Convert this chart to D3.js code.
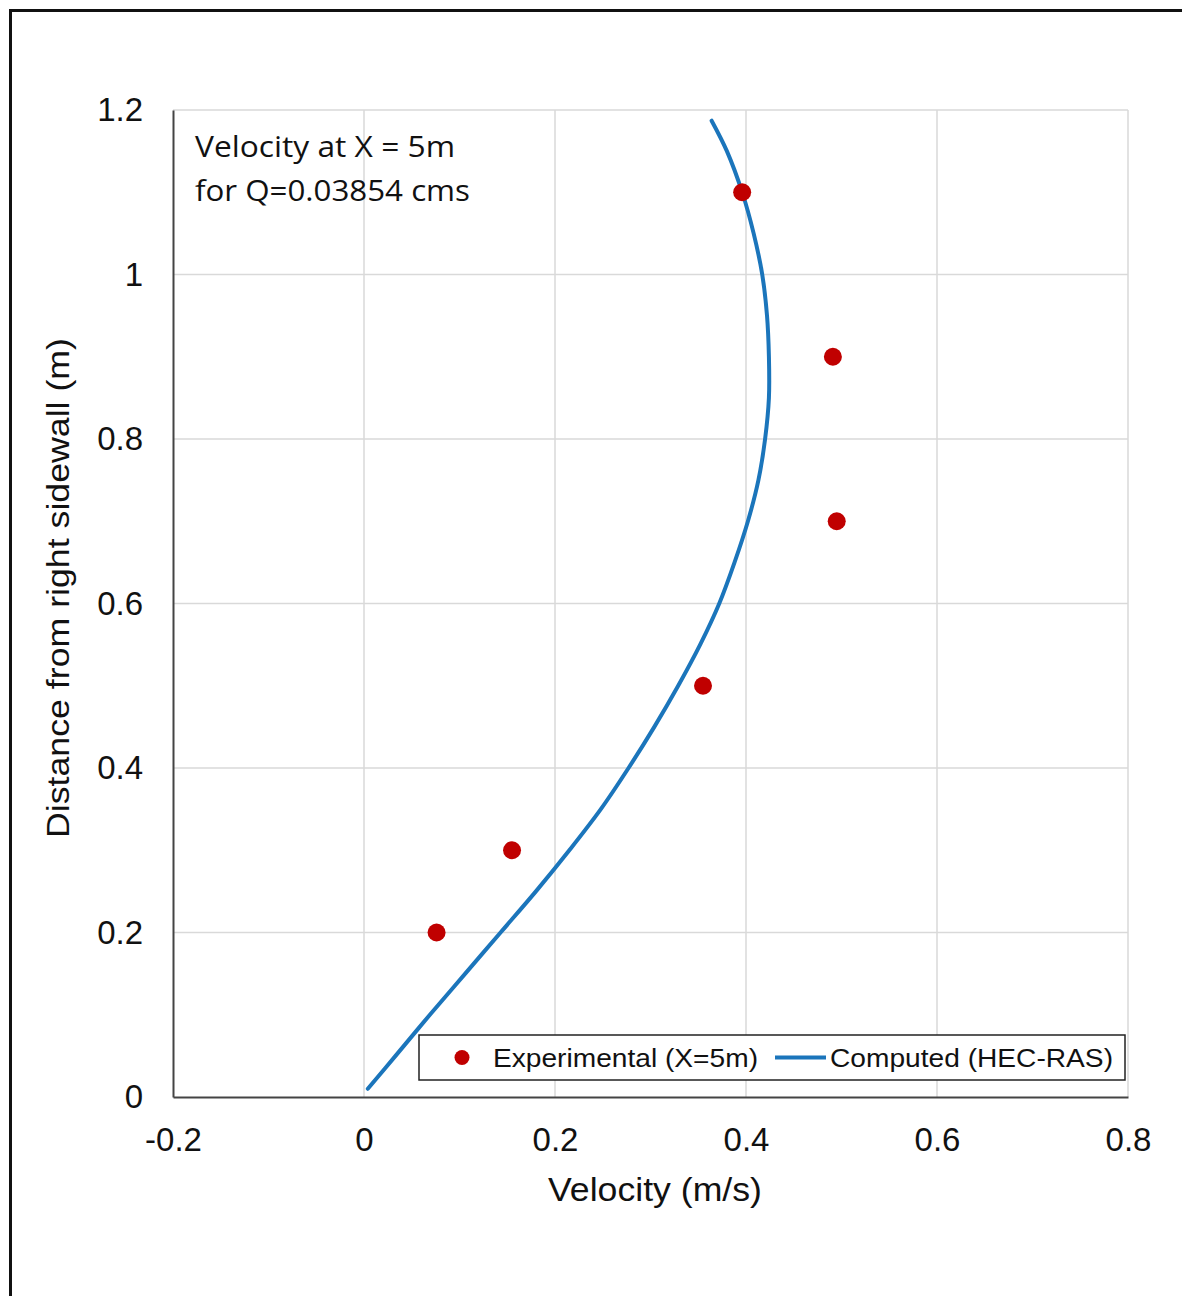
<!DOCTYPE html>
<html>
<head>
<meta charset="utf-8">
<script src="https://cdn.jsdelivr.net/npm/d3@7/dist/d3.min.js"></script>
<style>
  html, body { margin: 0; padding: 0; background: #fff; }
  svg { display: block; }
</style>
</head>
<body>
<script>
// ---- Data ----
const xTicks = [-0.2, 0, 0.2, 0.4, 0.6, 0.8];
const yTicks = [0, 0.2, 0.4, 0.6, 0.8, 1, 1.2];
const xTickLabels = ["-0.2", "0", "0.2", "0.4", "0.6", "0.8"];
const yTickLabels = ["0", "0.2", "0.4", "0.6", "0.8", "1", "1.2"];

// Experimental (X=5m): velocity (m/s), distance (m)
const expVelocity = [0.076, 0.155, 0.355, 0.495, 0.491, 0.396];
const expDistance = [0.2, 0.3, 0.5, 0.7, 0.9, 1.1];

// Computed (HEC-RAS)
const compVelocity = [0.004, 0.033, 0.069, 0.106, 0.143, 0.180, 0.215, 0.248, 0.277, 0.304, 0.329, 0.352, 0.372, 0.388, 0.402, 0.413, 0.420, 0.424, 0.424, 0.422, 0.417, 0.408, 0.396, 0.380, 0.364];
const compDistance = [0.01, 0.05, 0.10, 0.15, 0.20, 0.25, 0.30, 0.35, 0.40, 0.45, 0.50, 0.55, 0.60, 0.65, 0.70, 0.75, 0.80, 0.85, 0.90, 0.95, 1.00, 1.05, 1.10, 1.15, 1.187];

const annotationLines = ["Velocity at X = 5m", "for Q=0.03854 cms"];
const legendLabels = ["Experimental (X=5m)", "Computed (HEC-RAS)"];
const xTitle = "Velocity  (m/s)";
const yTitle = "Distance from right sidewall  (m)";

// ---- Layout ----
const W = 1182, H = 1296;
const mLeft = 173, mRight = 1128, mTop = 110, mBottom = 1097;
const blue = "#1b75bb", red = "#c00000";
const tickFont = "'Liberation Sans', Arial, sans-serif";

const svg = d3.select("body").append("svg").attr("width", W).attr("height", H);

// outer frame
svg.append("rect").attr("x", 10.5).attr("y", 10.5).attr("width", 1250).attr("height", 1350)
  .attr("fill", "none").attr("stroke", "#111").attr("stroke-width", 3);

const x = d3.scaleLinear().domain([-0.2, 0.8]).range([mLeft, mRight]);
const y = d3.scaleLinear().domain([0, 1.2]).range([mBottom, mTop]);

// gridlines
const grid = svg.append("g");
grid.selectAll("line.v").data(xTicks.slice(1)).join("line")
  .attr("x1", d => x(d)).attr("x2", d => x(d)).attr("y1", mTop).attr("y2", mBottom)
  .attr("stroke", "#d9d9d9").attr("stroke-width", 1.5);
grid.selectAll("line.h").data(yTicks.slice(1)).join("line")
  .attr("x1", mLeft).attr("x2", mRight).attr("y1", d => y(d)).attr("y2", d => y(d))
  .attr("stroke", "#d9d9d9").attr("stroke-width", 1.5);

// axes
const xAxis = d3.axisBottom(x).tickValues(xTicks).tickSize(0).tickPadding(31)
  .tickFormat((d, i) => xTickLabels[i]);
const gx = svg.append("g").attr("transform", `translate(0,${mBottom})`).call(xAxis);
gx.select(".domain").attr("stroke", "#444").attr("stroke-width", 2);
gx.selectAll("text").attr("font-family", tickFont).attr("font-size", 33).attr("fill", "#111");

const yAxis = d3.axisLeft(y).tickValues(yTicks).tickSize(0).tickPadding(30)
  .tickFormat((d, i) => yTickLabels[i]);
const gy = svg.append("g").attr("transform", `translate(${mLeft},0)`).call(yAxis);
gy.select(".domain").attr("stroke", "#444").attr("stroke-width", 2);
gy.selectAll("text").attr("font-family", tickFont).attr("font-size", 33).attr("fill", "#111");

// axis titles
svg.append("text").attr("x", 655).attr("y", 1201).attr("text-anchor", "middle")
  .attr("font-family", tickFont).attr("font-size", 33).attr("fill", "#111")
  .attr("textLength", 214).attr("lengthAdjust", "spacingAndGlyphs").text(xTitle);
svg.append("text").attr("transform", "translate(69,588) rotate(-90)").attr("text-anchor", "middle")
  .attr("font-family", tickFont).attr("font-size", 32).attr("fill", "#111")
  .attr("textLength", 500).attr("lengthAdjust", "spacingAndGlyphs").text(yTitle);

// computed line
const line = d3.line().x(d => x(d[0])).y(d => y(d[1])).curve(d3.curveCatmullRom.alpha(0.5));
const compData = compVelocity.map((v, i) => [v, compDistance[i]]);
svg.append("path").datum(compData).attr("d", line)
  .attr("fill", "none").attr("stroke", blue).attr("stroke-width", 4).attr("stroke-linecap", "round");

// experimental points
const expData = expVelocity.map((v, i) => [v, expDistance[i]]);
svg.append("g").selectAll("circle").data(expData).join("circle")
  .attr("cx", d => x(d[0])).attr("cy", d => y(d[1])).attr("r", 9).attr("fill", red);

// annotation
const ann = svg.append("g");
ann.selectAll("text").data(annotationLines).join("text")
  .attr("x", 195).attr("y", (d, i) => 157 + i * 44)
  .attr("font-family", "'Open Sans', 'Noto Sans', sans-serif").attr("font-size", 29).attr("fill", "#111")
  .attr("textLength", (d, i) => i === 0 ? 260 : 275).attr("lengthAdjust", "spacingAndGlyphs")
  .text(d => d);

// legend
const lg = svg.append("g");
lg.append("rect").attr("x", 419).attr("y", 1035).attr("width", 706).attr("height", 45)
  .attr("fill", "#fff").attr("stroke", "#222").attr("stroke-width", 1.5);
lg.append("circle").attr("cx", 462).attr("cy", 1057.5).attr("r", 7.5).attr("fill", red);
lg.append("text").attr("x", 493).attr("y", 1066.5).attr("font-family", tickFont).attr("font-size", 25)
  .attr("fill", "#111").attr("textLength", 265).attr("lengthAdjust", "spacingAndGlyphs").text(legendLabels[0]);
lg.append("line").attr("x1", 775).attr("x2", 826).attr("y1", 1057.5).attr("y2", 1057.5)
  .attr("stroke", blue).attr("stroke-width", 4);
lg.append("text").attr("x", 830).attr("y", 1066.5).attr("font-family", tickFont).attr("font-size", 25)
  .attr("fill", "#111").attr("textLength", 283).attr("lengthAdjust", "spacingAndGlyphs").text(legendLabels[1]);
</script>
</body>
</html>
